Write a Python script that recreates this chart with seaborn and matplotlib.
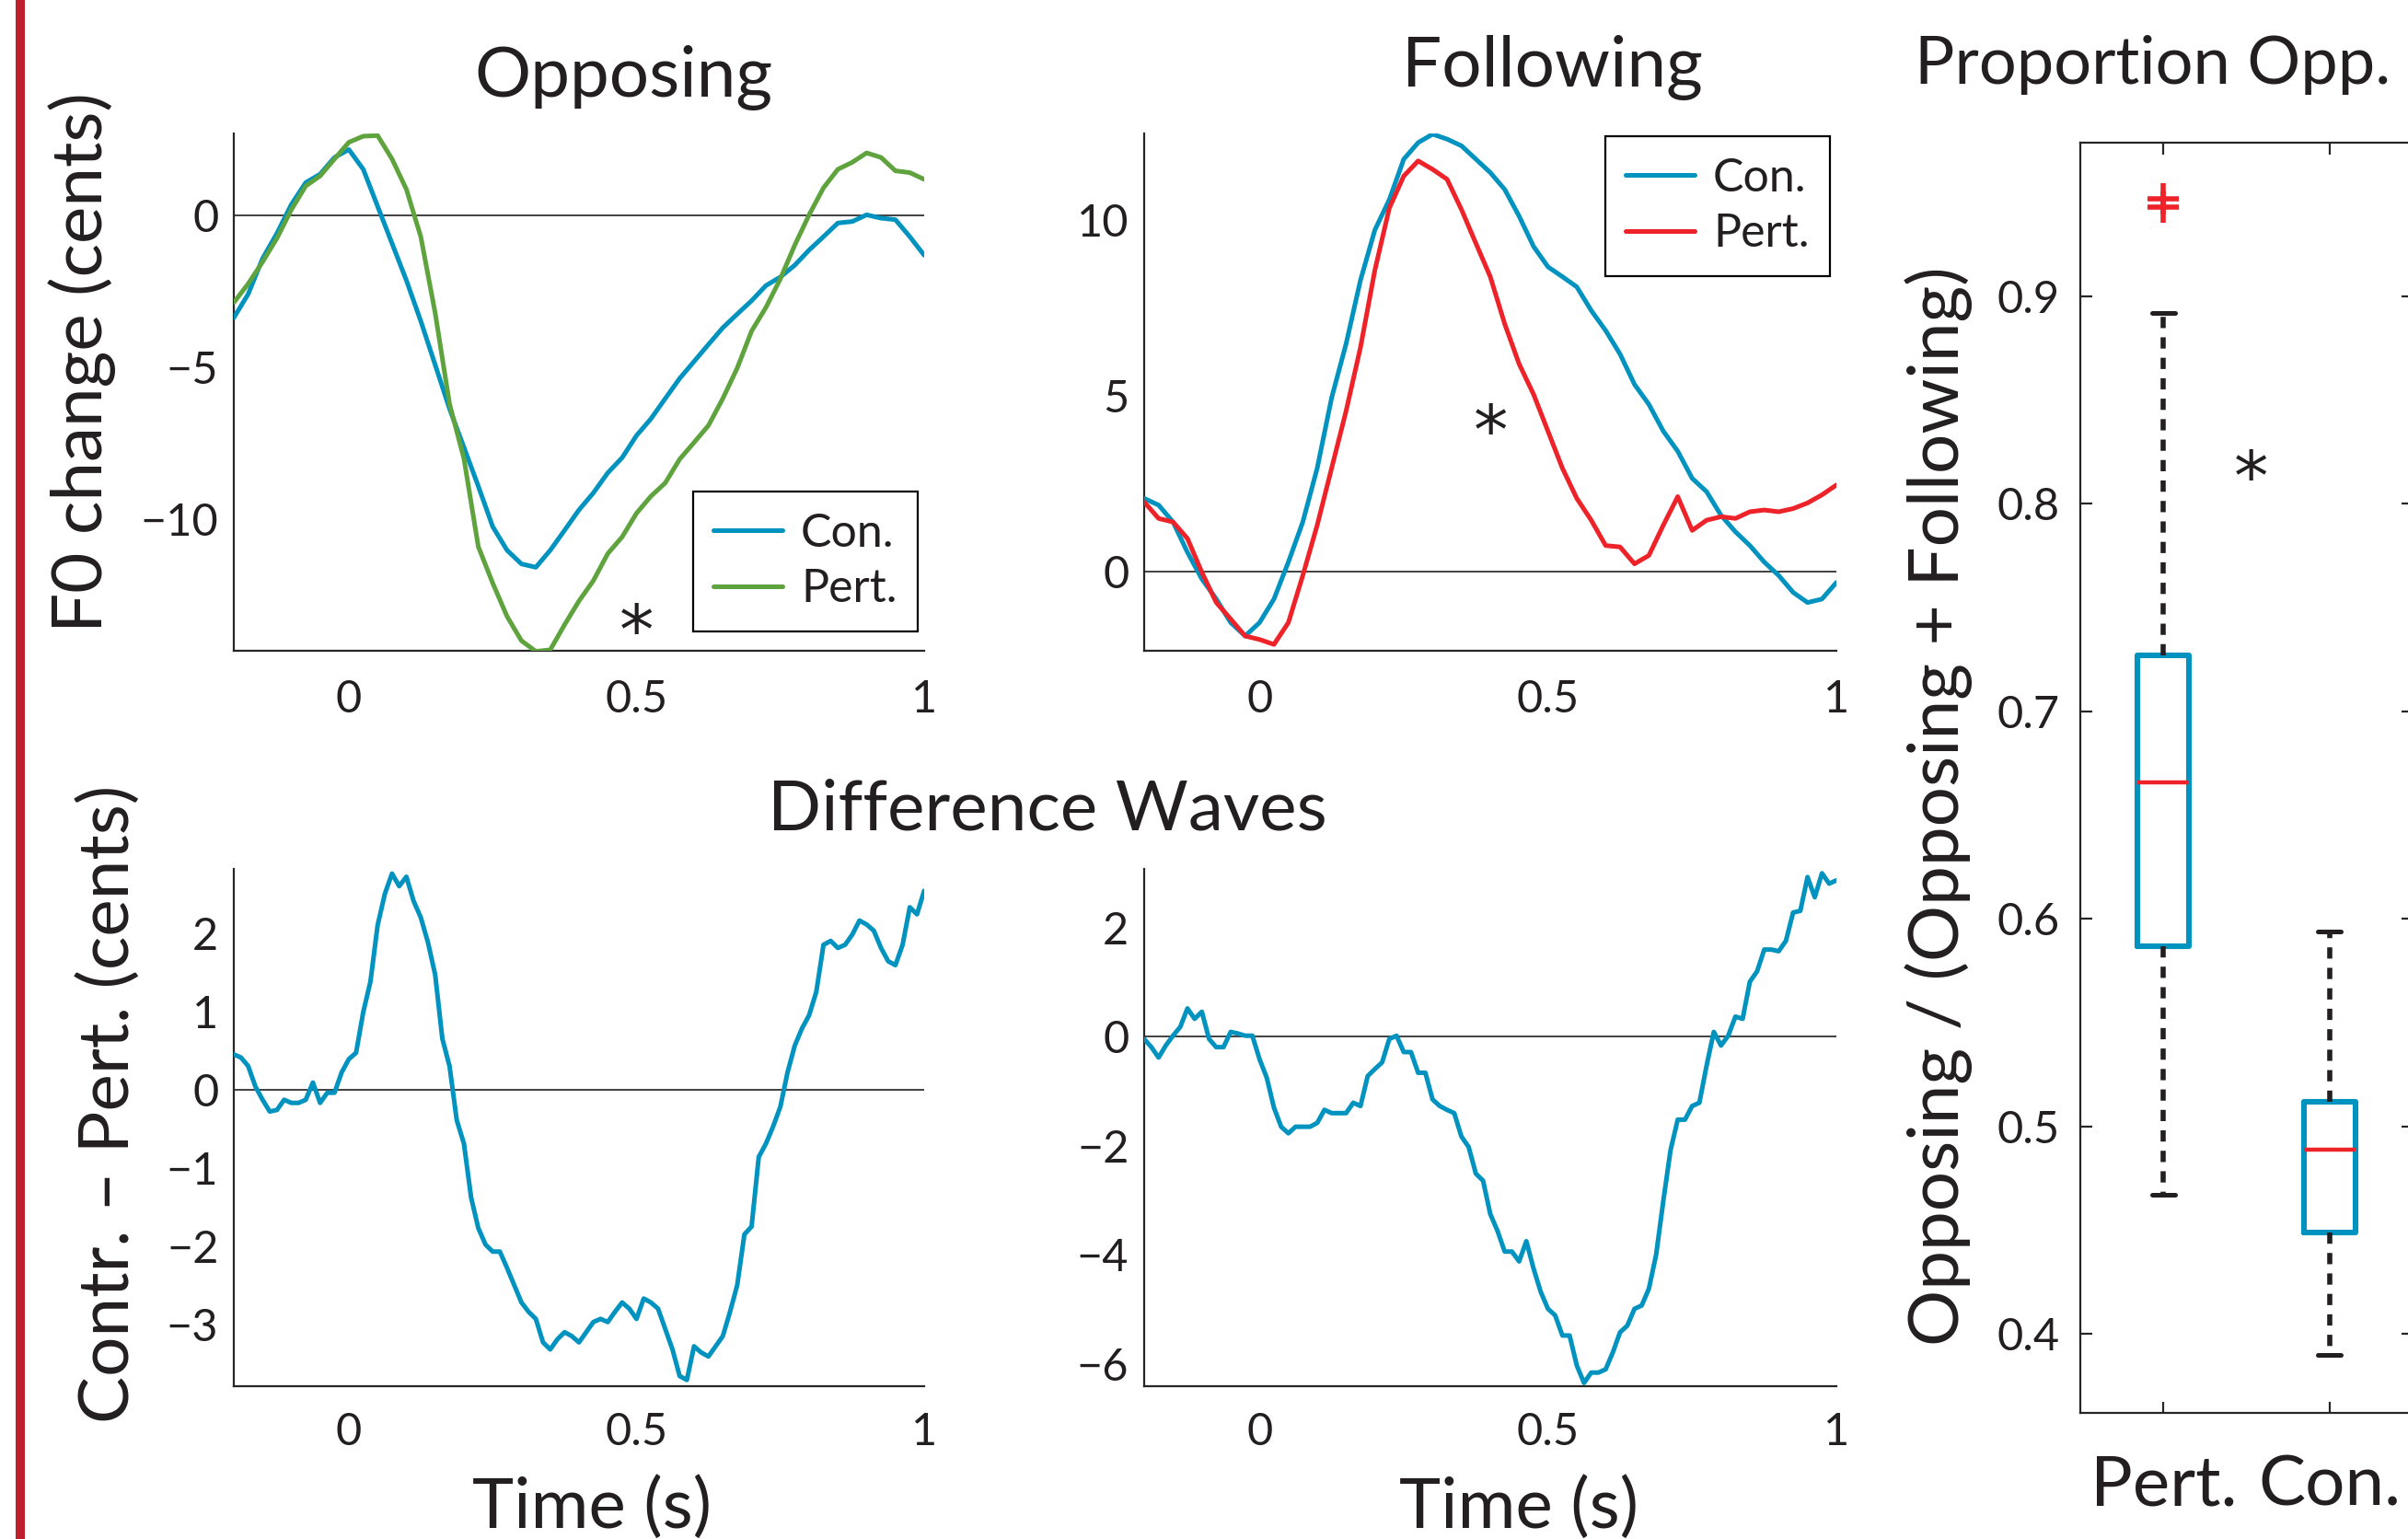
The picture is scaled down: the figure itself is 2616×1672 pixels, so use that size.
import matplotlib
matplotlib.use("Agg")
import matplotlib.pyplot as plt
import seaborn as sns
import pandas as pd
from matplotlib.patches import Rectangle

# ---------------- data ----------------
time_s = [-0.2, -0.175, -0.15, -0.125, -0.1, -0.075, -0.05, -0.025, 0.0,
          0.025, 0.05, 0.075, 0.1, 0.125, 0.15, 0.175, 0.2, 0.225, 0.25,
          0.275, 0.3, 0.325, 0.35, 0.375, 0.4, 0.425, 0.45, 0.475, 0.5,
          0.525, 0.55, 0.575, 0.6, 0.625, 0.65, 0.675, 0.7, 0.725, 0.75,
          0.775, 0.8, 0.825, 0.85, 0.875, 0.9, 0.925, 0.95, 0.975, 1.0]

opp_con = [-3.36, -2.58, -1.41, -0.58, 0.37, 1.09, 1.37, 1.92, 2.18,
           1.53, 0.31, -0.91, -2.13, -3.47, -4.91, -6.36, -7.63, -8.91, -10.24,
           -11.02, -11.47, -11.58, -11.02, -10.36, -9.69, -9.13, -8.47, -7.97, -7.24,
           -6.69, -6.02, -5.36, -4.8, -4.24, -3.69, -3.24, -2.8, -2.3, -2.02,
           -1.63, -1.13, -0.69, -0.24, -0.19, 0.03, -0.08, -0.13, -0.69, -1.3]
opp_pert = [-2.86, -2.24, -1.52, -0.74, 0.2, 0.98, 1.31, 1.87, 2.42,
            2.62, 2.64, 1.87, 0.87, -0.69, -3.2, -6.2, -8.0, -10.9, -12.1,
            -13.2, -14.0, -14.35, -14.3, -13.47, -12.69, -12.02, -11.13, -10.58, -9.8,
            -9.24, -8.8, -8.02, -7.47, -6.91, -6.02, -5.02, -3.8, -3.02, -2.08,
            -0.97, 0.03, 0.92, 1.53, 1.76, 2.07, 1.92, 1.48, 1.42, 1.2]
fol_con = [2.08, 1.89, 1.41, 0.55, -0.21, -0.78, -1.45, -1.83, -1.45,
           -0.78, 0.27, 1.41, 2.94, 4.94, 6.47, 8.28, 9.71, 10.57, 11.72,
           12.19, 12.43, 12.29, 12.1, 11.72, 11.34, 10.86, 10.1, 9.24, 8.66,
           8.38, 8.09, 7.42, 6.85, 6.18, 5.32, 4.75, 3.99, 3.42, 2.65,
           2.27, 1.6, 1.13, 0.74, 0.27, -0.11, -0.59, -0.88, -0.78, -0.31]
fol_pert = [1.98, 1.51, 1.41, 0.94, -0.02, -0.88, -1.35, -1.83, -1.93,
            -2.07, -1.45, -0.11, 1.32, 2.94, 4.56, 6.37, 8.57, 10.33, 11.24,
            11.67, 11.43, 11.15, 10.29, 9.33, 8.38, 7.04, 5.9, 5.04, 3.99,
            2.94, 2.08, 1.46, 0.74, 0.7, 0.22, 0.46, 1.32, 2.13, 1.17,
            1.46, 1.56, 1.51, 1.7, 1.75, 1.7, 1.79, 1.95, 2.18, 2.46]

# difference waves were read at a finer time step
time_fine = [-0.2, -0.1875, -0.175, -0.1625, -0.15, -0.1375, -0.125, -0.1125,
             -0.1, -0.0875, -0.075, -0.0625, -0.05, -0.0375, -0.025, -0.0125,
             0.0, 0.0125, 0.025, 0.0375, 0.05, 0.0625, 0.075, 0.0875,
             0.1, 0.1125, 0.125, 0.1375, 0.15, 0.1625, 0.175, 0.1875,
             0.2, 0.2125, 0.225, 0.2375, 0.25, 0.2625, 0.275, 0.2875,
             0.3, 0.3125, 0.325, 0.3375, 0.35, 0.3625, 0.375, 0.3875,
             0.4, 0.4125, 0.425, 0.4375, 0.45, 0.4625, 0.475, 0.4875,
             0.5, 0.5125, 0.525, 0.5375, 0.55, 0.5625, 0.575, 0.5875,
             0.6, 0.6125, 0.625, 0.6375, 0.65, 0.6625, 0.675, 0.6875,
             0.7, 0.7125, 0.725, 0.7375, 0.75, 0.7625, 0.775, 0.7875,
             0.8, 0.8125, 0.825, 0.8375, 0.85, 0.8625, 0.875, 0.8875,
             0.9, 0.9125, 0.925, 0.9375, 0.95, 0.9625, 0.975, 0.9875, 1.0]
diff_opp = [0.45, 0.41, 0.3, 0.04, -0.13, -0.28, -0.26, -0.13, -0.17, -0.17,
            -0.13, 0.09, -0.17, -0.04, -0.04, 0.22, 0.39, 0.47, 0.99, 1.38,
            2.1, 2.5, 2.76, 2.6, 2.72, 2.41, 2.2, 1.88, 1.47, 0.65,
            0.3, -0.39, -0.69, -1.38, -1.77, -1.98, -2.07, -2.07, -2.28, -2.5,
            -2.72, -2.84, -2.93, -3.23, -3.32, -3.19, -3.1, -3.15, -3.23, -3.1,
            -2.97, -2.93, -2.97, -2.84, -2.72, -2.8, -2.93, -2.67, -2.72, -2.8,
            -3.06, -3.32, -3.66, -3.71, -3.28, -3.36, -3.41, -3.28, -3.15, -2.84,
            -2.5, -1.85, -1.75, -0.86, -0.69, -0.47, -0.22, 0.22, 0.56, 0.78,
            0.95, 1.25, 1.85, 1.9, 1.81, 1.85, 1.98, 2.16, 2.11, 2.03,
            1.81, 1.64, 1.59, 1.85, 2.33, 2.24, 2.54]
diff_fol = [-0.04, -0.19, -0.38, -0.16, 0.02, 0.18, 0.52, 0.33, 0.46, -0.04,
            -0.19, -0.19, 0.09, 0.06, 0.02, 0.02, -0.41, -0.75, -1.3, -1.65,
            -1.77, -1.65, -1.65, -1.65, -1.58, -1.34, -1.4, -1.4, -1.4, -1.21,
            -1.27, -0.72, -0.59, -0.47, -0.04, 0.02, -0.28, -0.28, -0.66, -0.66,
            -1.15, -1.27, -1.34, -1.4, -1.83, -2.02, -2.51, -2.64, -3.25, -3.56,
            -3.94, -3.94, -4.12, -3.75, -4.25, -4.68, -4.99, -5.11, -5.48, -5.48,
            -6.03, -6.35, -6.16, -6.16, -6.1, -5.79, -5.42, -5.3, -4.99, -4.93,
            -4.62, -4.0, -3.01, -2.08, -1.52, -1.52, -1.27, -1.21, -0.53, 0.09,
            -0.16, 0.02, 0.37, 0.33, 1.01, 1.2, 1.6, 1.6, 1.57, 1.76,
            2.28, 2.31, 2.93, 2.56, 3.0, 2.81, 2.87]

series_labels = ["Con.", "Pert."]
xtick_vals = [0, 0.5, 1]
xtick_labels = ["0", "0.5", "1"]

box_groups = ["Pert.", "Con."]
box_q1 = [0.587, 0.449]
box_med = [0.666, 0.489]
box_q3 = [0.727, 0.512]
box_whislo = [0.467, 0.390]
box_whishi = [0.892, 0.594]
box_fliers = [[0.943, 0.947], []]
box_yticks = [0.4, 0.5, 0.6, 0.7, 0.8, 0.9]

# ---------------- style ----------------
BLUE = "#0093BF"
GREEN = "#5FA33F"
RED = "#EE2229"
INK = "#231F20"
AX = "#262626"

sns.set_theme(style="white")
plt.rcParams['font.family'] = ['Lato', 'DejaVu Sans']
plt.rcParams['axes.unicode_minus'] = True

W, H = 2616, 1672
fig = plt.figure(figsize=(W / 200, H / 200), dpi=200)


def fx(px):
    return px / W


def fy(py):
    return 1 - py / H


def axes_px(left, top, right, bottom):
    return fig.add_axes([fx(left), fy(bottom), (right - left) / W, (bottom - top) / H])


TICK_FS = 17.5
LEG_FS = 18
BIG_FS = 27.5
LW = 1.8


def style_line_axes(ax, ylim, yticks, xpad):
    ax.set_xlim(-0.2, 1.0)
    ax.set_ylim(*ylim)
    ax.set_xticks(xtick_vals)
    ax.set_xticklabels(xtick_labels)
    ax.set_yticks(yticks)
    for s in ["top", "right"]:
        ax.spines[s].set_visible(False)
    for s in ["left", "bottom"]:
        ax.spines[s].set_color(AX)
        ax.spines[s].set_linewidth(0.8)
    ax.tick_params(direction="in", length=2.5, width=0.8, color=AX,
                   labelsize=TICK_FS, labelcolor=INK)
    ax.tick_params(axis="x", pad=xpad)
    ax.tick_params(axis="y", pad=6)
    ax.axhline(0, color=INK, lw=0.6, zorder=1)
    ax.set_xlabel("")
    ax.set_ylabel("")
    ax.set_facecolor("white")


def star(ax, x, y):
    # asterisk glyph centred on (x, y)
    ax.annotate("*", xy=(x, y), xytext=(0, -8), textcoords="offset points",
                ha="center", va="center", fontsize=27, color=INK,
                family=["DejaVu Sans"])


def add_legend(ax, right_px, top_px):
    ln = ax.get_lines()
    leg = ax.legend([ln[0], ln[1]], series_labels, loc="upper right",
                    bbox_to_anchor=(fx(right_px), fy(top_px)),
                    bbox_transform=fig.transFigure, borderaxespad=0,
                    frameon=True, fancybox=False, framealpha=1,
                    edgecolor="black", fontsize=LEG_FS, handlelength=1.5,
                    handletextpad=0.4, labelspacing=0.3, borderpad=0.45,
                    labelcolor=INK)
    leg.get_frame().set_linewidth(0.8)


# Panel 1: Opposing
ax1 = axes_px(254, 145, 1004, 707)
df1 = pd.DataFrame({"t": time_s, "con": opp_con, "pert": opp_pert})
sns.lineplot(data=df1, x="t", y="con", ax=ax1, color=BLUE, linewidth=LW, zorder=3)
sns.lineplot(data=df1, x="t", y="pert", ax=ax1, color=GREEN, linewidth=LW, zorder=3)
style_line_axes(ax1, (-14.33, 2.71), [-10, -5, 0], 11)
add_legend(ax1, 997, 534)
star(ax1, 0.5, -13.13)

# Panel 2: Following
ax2 = axes_px(1243, 145, 1995, 707)
df2 = pd.DataFrame({"t": time_s, "con": fol_con, "pert": fol_pert})
sns.lineplot(data=df2, x="t", y="con", ax=ax2, color=BLUE, linewidth=LW, zorder=3)
sns.lineplot(data=df2, x="t", y="pert", ax=ax2, color=RED, linewidth=LW, zorder=3)
style_line_axes(ax2, (-2.25, 12.45), [0, 5, 10], 11)
add_legend(ax2, 1988, 148)
star(ax2, 0.40, 4.47)

# Panel 3: difference opposing
ax3 = axes_px(254, 944, 1004, 1506)
df3 = pd.DataFrame({"t": time_fine, "d": diff_opp})
sns.lineplot(data=df3, x="t", y="d", ax=ax3, color=BLUE, linewidth=LW, zorder=3)
style_line_axes(ax3, (-3.79, 2.82), [-3, -2, -1, 0, 1, 2], 10)

# Panel 4: difference following
ax4 = axes_px(1243, 944, 1995, 1506)
df4 = pd.DataFrame({"t": time_fine, "d": diff_fol})
sns.lineplot(data=df4, x="t", y="d", ax=ax4, color=BLUE, linewidth=LW, zorder=3)
style_line_axes(ax4, (-6.41, 3.08), [-6, -4, -2, 0, 2], 10)

# Panel 5: box plot
ax5 = axes_px(2260, 155, 2621, 1535)
stats = []
for i, g in enumerate(box_groups):
    stats.append(dict(label=g, q1=box_q1[i], med=box_med[i], q3=box_q3[i],
                      whislo=box_whislo[i], whishi=box_whishi[i],
                      fliers=box_fliers[i]))
ax5.bxp(stats, positions=[1, 2], widths=0.31, capwidths=0.14, showfliers=True,
        boxprops=dict(color=BLUE, linewidth=2.2),
        medianprops=dict(color=RED, linewidth=1.6),
        whiskerprops=dict(color=INK, linewidth=2.0, linestyle=(0, (2.2, 1.8))),
        capprops=dict(color=INK, linewidth=1.8),
        flierprops=dict(marker="+", markeredgecolor=RED, markersize=12,
                        markeredgewidth=2.0, linestyle="none"))
ax5.set_xlim(0.5, 2.5)
ax5.set_ylim(0.362, 0.974)
ax5.set_yticks(box_yticks)
ax5.set_yticklabels([f"{v:.1f}" for v in box_yticks])
ax5.set_xticks([1, 2])
ax5.set_xticklabels(box_groups)
for s in ax5.spines.values():
    s.set_visible(True)
    s.set_color(AX)
    s.set_linewidth(0.8)
ax5.tick_params(direction="in", length=4.5, width=0.8, color=AX, top=True,
                right=True, left=True, bottom=True, labelcolor=INK)
ax5.tick_params(axis="y", labelsize=TICK_FS, pad=8)
ax5.tick_params(axis="x", labelsize=BIG_FS, pad=16)
ax5.set_facecolor("white")
star(ax5, 1.53, 0.821)

# ---------------- figure texts ----------------
fig.text(fx(677), fy(105), "Opposing", ha="center", va="baseline", fontsize=BIG_FS, color=INK)
fig.text(fx(1686), fy(94), "Following", ha="center", va="baseline", fontsize=BIG_FS, color=INK)
fig.text(fx(2080), fy(91), "Proportion Opp.", ha="left", va="baseline", fontsize=26, color=INK)
fig.text(fx(1138), fy(901), "Difference Waves", ha="center", va="baseline", fontsize=BIG_FS, color=INK)
fig.text(fx(643), fy(1660), "Time (s)", ha="center", va="baseline", fontsize=BIG_FS, color=INK)
fig.text(fx(1650), fy(1660), "Time (s)", ha="center", va="baseline", fontsize=BIG_FS, color=INK)
fig.text(fx(89), fy(394), "F0 change (cents)", rotation=90, ha="center", va="center",
         fontsize=BIG_FS, color=INK)
fig.text(fx(118), fy(1199), "Contr. \u2013 Pert. (cents)", rotation=90, ha="center",
         va="center", fontsize=BIG_FS, color=INK)
fig.text(fx(2106), fy(876), "Opposing / (Opposing + Following)", rotation=90,
         ha="center", va="center", fontsize=BIG_FS, color=INK)

fig.add_artist(Rectangle((fx(17), 0), 10 / W, 1, transform=fig.transFigure,
                         facecolor="#BE1E2D", edgecolor="none"))

fig.savefig("out.png", dpi=200, facecolor="white")
